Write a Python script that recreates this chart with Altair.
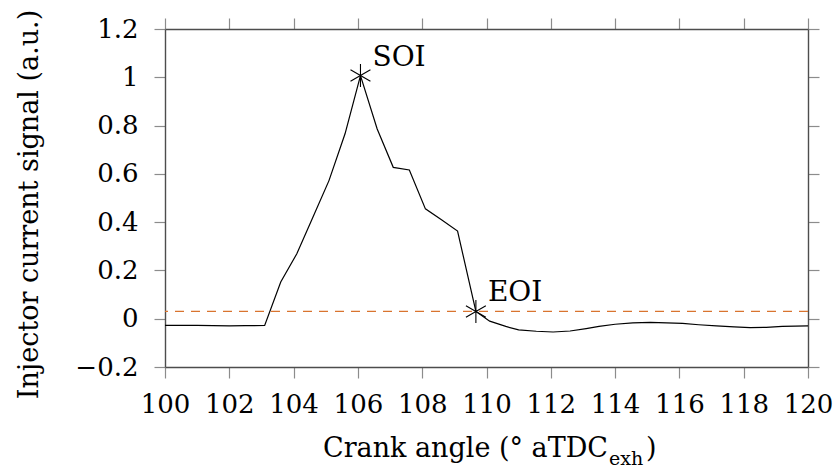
import altair as alt
import pandas as pd

# ---- data ----
angle = [100.0, 101.0, 102.0, 102.5, 103.1, 103.6, 104.1, 104.6, 105.1, 105.6,
         106.08, 106.6, 107.1, 107.6, 108.1, 108.6, 109.1, 109.67, 110.1, 110.6,
         111.0, 111.55, 112.07, 112.6, 113.1, 113.5, 114.0, 114.55, 115.1, 115.6,
         116.1, 116.6, 117.15, 117.7, 118.2, 118.7, 119.2, 120.0]
signal = [-0.028, -0.028, -0.030, -0.029, -0.028, 0.152, 0.269, 0.420, 0.572, 0.766,
          1.007, 0.786, 0.627, 0.616, 0.455, 0.410, 0.363, 0.030, -0.010, -0.032,
          -0.046, -0.052, -0.055, -0.051, -0.041, -0.032, -0.023, -0.017, -0.015, -0.017,
          -0.019, -0.025, -0.030, -0.034, -0.037, -0.036, -0.032, -0.030]
event_angle = [106.08, 109.67]
event_signal = [1.007, 0.030]
event_label = ["SOI", "EOI"]
threshold = [0.03]
x_ticks = [100, 102, 104, 106, 108, 110, 112, 114, 116, 118, 120]
y_ticks = [-0.2, 0.0, 0.2, 0.4, 0.6, 0.8, 1.0, 1.2]
x_title_main = "Crank angle (° aTDC"
x_title_sub = "exh"
x_title_end = ")"
y_title = "Injector current signal (a.u.)"

FONT = "DejaVu Serif"
FS = 26
TFS = 27
ORANGE = "#d9742f"
STAR = "M0,-1L0,1M-0.866,-0.5L0.866,0.5M-0.866,0.5L0.866,-0.5"

main_df = pd.DataFrame({"angle": angle, "signal": signal})
ev_df = pd.DataFrame({"angle": event_angle, "signal": event_signal, "label": event_label})
thr_df = pd.DataFrame({"t": threshold})

xs = alt.Scale(domain=[100, 120], nice=False, zero=False)
ys = alt.Scale(domain=[-0.2, 1.2], nice=False, zero=False)

ax = dict(tickSize=11, tickColor="#8c8c8c", tickWidth=1.2, domainColor="#4d4d4d",
          domainWidth=1.4, grid=False, labelFont=FONT, labelFontSize=FS,
          labelColor="black", titleFont=FONT, titleFontSize=TFS, titleColor="black",
          titleFontWeight="normal", labelFlush=False, labelOverlap=False,
          titleLimit=2000, labelLimit=500)

rule = alt.Chart(thr_df).mark_rule(color=ORANGE, strokeDash=[9, 7], strokeWidth=1.3).encode(
    y=alt.Y("t:Q", scale=ys, axis=None)
)

line = alt.Chart(main_df).mark_line(color="black", strokeWidth=1.2).encode(
    x=alt.X("angle:Q", scale=xs,
            axis=alt.Axis(orient="bottom", values=x_ticks, title=None, labelPadding=13, **ax)),
    y=alt.Y("signal:Q", scale=ys,
            axis=alt.Axis(orient="left", values=y_ticks, format=".1~f", title=y_title,
                          labelPadding=16, titleX=-128, titleY=175, titleAngle=270,
                          titleAlign="center", titleBaseline="alphabetic", **ax)),
)

stars = alt.Chart(ev_df).mark_point(shape=STAR, size=529, filled=False, color="black",
                                    strokeWidth=1.1, opacity=1).encode(
    x=alt.X("angle:Q", scale=xs, axis=None),
    y=alt.Y("signal:Q", scale=ys, axis=None),
)

labels = alt.Chart(ev_df).mark_text(align="left", baseline="alphabetic", dx=12, dy=-10,
                                    font=FONT, fontSize=28, color="black").encode(
    x=alt.X("angle:Q", scale=xs, axis=None),
    y=alt.Y("signal:Q", scale=ys, axis=None),
    text="label:N",
)

frame = alt.Chart(main_df).mark_point(opacity=0).encode(
    x=alt.X("angle:Q", scale=xs,
            axis=alt.Axis(orient="top", values=x_ticks, labels=False, title=None, **ax)),
    y=alt.Y("signal:Q", scale=ys,
            axis=alt.Axis(orient="right", values=y_ticks, labels=False, title=None, **ax)),
)

XS = 443
t_main = alt.Chart(pd.DataFrame({"t": [x_title_main]})).mark_text(
    align="right", baseline="alphabetic", font=FONT, fontSize=TFS, color="black").encode(
    x=alt.value(XS), y=alt.value(428), text="t:N")
t_sub = alt.Chart(pd.DataFrame({"t": [x_title_sub]})).mark_text(
    align="left", baseline="alphabetic", font=FONT, fontSize=19, color="black").encode(
    x=alt.value(XS + 1), y=alt.value(436), text="t:N")
t_end = alt.Chart(pd.DataFrame({"t": [x_title_end]})).mark_text(
    align="left", baseline="alphabetic", font=FONT, fontSize=TFS, color="black").encode(
    x=alt.value(XS + 38), y=alt.value(428), text="t:N")

chart = alt.layer(rule, line, stars, labels, frame, t_main, t_sub, t_end).resolve_scale(
    x="independent", y="independent"
).resolve_axis(
    x="independent", y="independent"
).properties(
    width=643, height=338,
    autosize=alt.AutoSizeParams(type="none"),
    padding={"left": 165, "top": 29, "right": 26, "bottom": 109},
).configure(font=FONT, background="white").configure_view(stroke=None)

chart.save("out.html", embed_options={"renderer": "svg", "actions": False})
